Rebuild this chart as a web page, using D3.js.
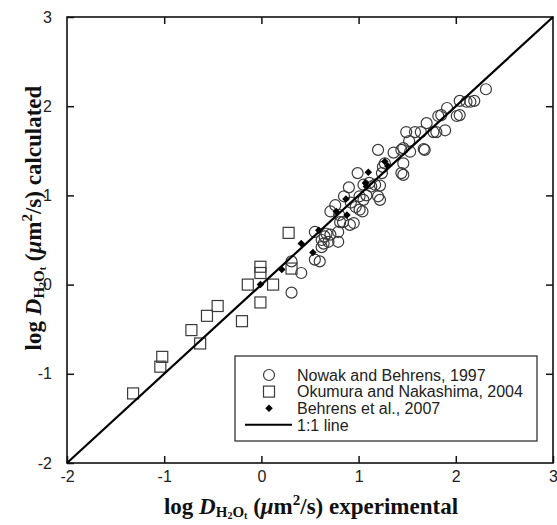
<!DOCTYPE html>
<html>
<head>
<meta charset="utf-8">
<script src="https://cdn.jsdelivr.net/npm/d3@7"></script>
<style>
  html, body { margin: 0; padding: 0; background: #fff; }
  svg { display: block; }
</style>
</head>
<body>
<svg id="chart" width="557" height="525"></svg>
<script>
// ---- data ----
const tickValues = [-2, -1, 0, 1, 2, 3];
const tickLabels = ["-2", "-1", "0", "1", "2", "3"];

const nowakX = [2.31, 2.19, 2.15, 2.11, 2.04, 2.04, 2.01, 1.91, 1.85, 1.82, 1.89, 1.77, 1.80, 1.70,
  1.64, 1.58, 1.49, 1.52, 1.67, 1.68, 1.44, 1.46, 1.53, 1.36, 1.46, 1.44, 1.46, 1.20, 1.27, 1.25,
  1.24, 0.99, 1.11, 1.13, 1.22, 1.20, 1.22, 0.90, 0.85, 1.01, 1.05, 0.76, 0.71, 0.97, 1.01, 1.04,
  0.84, 0.81, 0.91, 0.95, 0.67, 0.71, 0.65, 0.79, 0.79, 0.55, 0.62, 0.64, 0.69, 0.55, 0.60, 0.31,
  0.41, 0.31, 1.05, 1.08, 0.92, 0.80, 0.62, 1.17];
const nowakY = [2.19, 2.06, 2.05, 2.05, 2.06, 1.90, 1.89, 1.98, 1.90, 1.89, 1.73, 1.71, 1.71, 1.81,
  1.71, 1.71, 1.71, 1.61, 1.52, 1.51, 1.51, 1.53, 1.49, 1.48, 1.36, 1.25, 1.23, 1.51, 1.36, 1.32,
  1.25, 1.25, 1.14, 1.10, 1.11, 0.99, 0.95, 1.09, 0.99, 0.99, 0.95, 0.89, 0.82, 0.87, 0.84, 0.82,
  0.70, 0.70, 0.67, 0.69, 0.57, 0.56, 0.54, 0.59, 0.48, 0.59, 0.42, 0.46, 0.48, 0.28, 0.26, 0.26,
  0.13, -0.09, 1.12, 1.00, 0.92, 0.78, 0.50, 1.12];

const okumuraX = [-1.32, -1.04, -1.02, -0.72, -0.63, -0.56, -0.45, -0.20, -0.14, -0.01, -0.01, -0.01, 0.12, 0.28, 0.31];
const okumuraY = [-1.22, -0.92, -0.81, -0.51, -0.66, -0.35, -0.24, -0.41, 0.00, -0.20, 0.13, 0.20, 0.00, 0.58, 0.18];

const behrensX = [-0.01, 0.21, 0.41, 0.53, 0.59, 0.77, 0.88, 0.87, 1.07, 1.10, 1.08, 1.27, 1.30];
const behrensY = [0.00, 0.17, 0.46, 0.36, 0.61, 0.82, 0.78, 0.96, 1.14, 1.26, 1.10, 1.38, 1.33];

const oneToOne = [-2, 3];

const legendLabels = ["Nowak and Behrens, 1997", "Okumura and Nakashima, 2004", "Behrens et al., 2007", "1:1 line"];

// ---- layout ----
const W = 557, H = 525;
const m = { left: 67, right: 4, top: 17, bottom: 62 };
const svg = d3.select("#chart");

const x = d3.scaleLinear().domain([-2, 3]).range([m.left, W - m.right]);
const y = d3.scaleLinear().domain([-2, 3]).range([H - m.bottom, m.top]);

const fmt = d => tickLabels[tickValues.indexOf(d)];
const tickLen = 7;

function styleAxis(g) {
  g.select(".domain").remove();
  g.selectAll(".tick line").attr("stroke", "#111").attr("stroke-width", 1.5);
  g.selectAll(".tick text").attr("font-family", "Liberation Sans, Arial, sans-serif")
    .attr("font-size", 16).attr("fill", "#222");
}

svg.append("g").attr("transform", `translate(0,${y(-2)})`)
  .call(d3.axisBottom(x).tickValues(tickValues).tickFormat(fmt).tickSize(-tickLen).tickPadding(8))
  .call(styleAxis);
svg.append("g").attr("transform", `translate(0,${y(3)})`)
  .call(d3.axisTop(x).tickValues(tickValues.slice(1, -1)).tickFormat("").tickSize(-tickLen))
  .call(styleAxis);
svg.append("g").attr("transform", `translate(${x(-2)},0)`)
  .call(d3.axisLeft(y).tickValues(tickValues).tickFormat(fmt).tickSize(-tickLen).tickPadding(15))
  .call(styleAxis);
svg.append("g").attr("transform", `translate(${x(3)},0)`)
  .call(d3.axisRight(y).tickValues(tickValues.slice(1, -1)).tickFormat("").tickSize(-tickLen))
  .call(styleAxis);

// frame
svg.append("rect")
  .attr("x", x(-2)).attr("y", y(3))
  .attr("width", x(3) - x(-2)).attr("height", y(-2) - y(3))
  .attr("fill", "none").attr("stroke", "#111").attr("stroke-width", 1.6);

// points
const ptStroke = "#3a3a3a";
const nowak = nowakX.map((v, i) => [v, nowakY[i]]);
const okumura = okumuraX.map((v, i) => [v, okumuraY[i]]);
const behrens = behrensX.map((v, i) => [v, behrensY[i]]);

svg.append("g").selectAll("rect").data(okumura).join("rect")
  .attr("x", d => x(d[0]) - 5.5).attr("y", d => y(d[1]) - 5.5)
  .attr("width", 11).attr("height", 11)
  .attr("fill", "none").attr("stroke", ptStroke).attr("stroke-width", 1.2);

svg.append("g").selectAll("circle").data(nowak).join("circle")
  .attr("cx", d => x(d[0])).attr("cy", d => y(d[1])).attr("r", 5.5)
  .attr("fill", "none").attr("stroke", ptStroke).attr("stroke-width", 1.2);

const diamond = d3.symbol().type(d3.symbolSquare).size(28);

// 1:1 line
svg.append("line")
  .attr("x1", x(oneToOne[0])).attr("y1", y(oneToOne[0]))
  .attr("x2", x(oneToOne[1])).attr("y2", y(oneToOne[1]))
  .attr("stroke", "#000").attr("stroke-width", 2.2);

svg.append("g").selectAll("path").data(behrens).join("path")
  .attr("d", diamond)
  .attr("transform", d => `translate(${x(d[0])},${y(d[1])}) rotate(45)`)
  .attr("fill", "#000");

// legend
const lg = svg.append("g");
lg.append("rect").attr("x", 235).attr("y", 356).attr("width", 302).attr("height", 85)
  .attr("fill", "#fff").attr("stroke", "#222").attr("stroke-width", 1.2);
const rowY = i => 375 + i * 16.6;
const symX = 269;
lg.append("circle").attr("cx", symX).attr("cy", rowY(0)).attr("r", 5.5)
  .attr("fill", "none").attr("stroke", ptStroke).attr("stroke-width", 1.2);
lg.append("rect").attr("x", symX - 5.5).attr("y", rowY(1) - 5.5).attr("width", 11).attr("height", 11)
  .attr("fill", "none").attr("stroke", ptStroke).attr("stroke-width", 1.2);
lg.append("path").attr("d", diamond).attr("transform", `translate(${symX},${rowY(2)}) rotate(45)`).attr("fill", "#000");
lg.append("line").attr("x1", 245).attr("x2", 292).attr("y1", rowY(3)).attr("y2", rowY(3))
  .attr("stroke", "#000").attr("stroke-width", 2);
lg.selectAll("text").data(legendLabels).join("text")
  .attr("x", 297).attr("y", (d, i) => rowY(i)).attr("dy", "0.36em")
  .attr("font-family", "Liberation Sans, Arial, sans-serif").attr("font-size", 16).attr("fill", "#222")
  .text(d => d);

// axis titles
function title(t, word) {
  const F = 23, S = 15, s = 10, P = 15;
  t.attr("font-family", "Liberation Serif, Times New Roman, serif").attr("font-weight", "bold")
    .attr("font-size", F).attr("fill", "#111").attr("text-anchor", "middle");
  t.append("tspan").text("log ");
  t.append("tspan").attr("font-style", "italic").text("D");
  t.append("tspan").attr("font-size", S).attr("dy", 3).text("H");
  t.append("tspan").attr("font-size", s).attr("dy", 2).text("2");
  t.append("tspan").attr("font-size", S).attr("dy", -2).text("O");
  t.append("tspan").attr("font-size", s).attr("dy", 2).text("t");
  t.append("tspan").attr("font-size", F).attr("dy", -5).text(" (");
  t.append("tspan").attr("font-style", "italic").text("\u03bc");
  t.append("tspan").text("m");
  t.append("tspan").attr("font-size", P).attr("dy", -9).text("2");
  t.append("tspan").attr("font-size", F).attr("dy", 9).text("/s) " + word);
}
svg.append("text").attr("x", 311).attr("y", 514).call(title, "experimental");
svg.append("text").attr("transform", "translate(41,218) rotate(-90)").call(title, "calculated");
</script>
</body>
</html>
